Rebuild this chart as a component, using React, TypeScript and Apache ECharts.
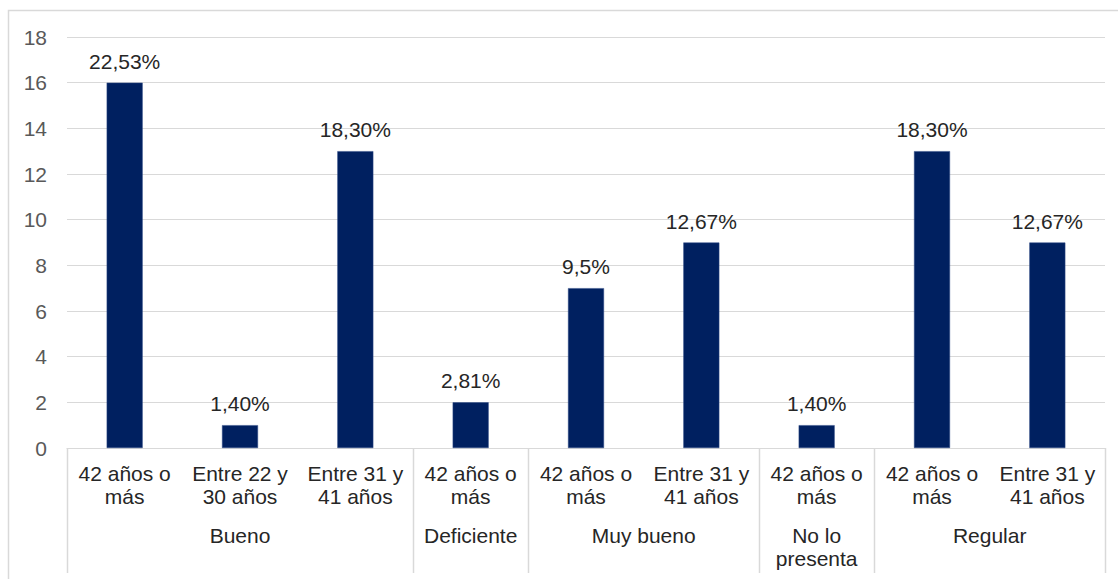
import React, { useEffect, useRef } from "react";
import * as echarts from "echarts";

const categories = [
  "42 años o\nmás",
  "Entre 22 y\n30 años",
  "Entre 31 y\n41 años",
  "42 años o\nmás",
  "42 años o\nmás",
  "Entre 31 y\n41 años",
  "42 años o\nmás",
  "42 años o\nmás",
  "Entre 31 y\n41 años",
];
const values = [16, 1, 13, 2, 7, 9, 1, 13, 9];
const percentLabels = ["22,53%", "1,40%", "18,30%", "2,81%", "9,5%", "12,67%", "1,40%", "18,30%", "12,67%"];
const groups = [
  { name: "Bueno", start: 0, end: 2 },
  { name: "Deficiente", start: 3, end: 3 },
  { name: "Muy bueno", start: 4, end: 5 },
  { name: "No lo\npresenta", start: 6, end: 6 },
  { name: "Regular", start: 7, end: 8 },
];

const FONT = "'Liberation Sans', Arial, sans-serif";
const FS = 21;

export default function App() {
  const ref = useRef<HTMLDivElement>(null);
  useEffect(() => {
    if (!ref.current) return;
    const chart = echarts.init(ref.current, null, { renderer: "svg" });
    chart.setOption({
      animation: false,
      backgroundColor: "#ffffff",
      grid: { left: 67, right: 13, top: 37, bottom: 131, containLabel: false },
      xAxis: {
        type: "category",
        data: categories,
        axisLine: { show: true, lineStyle: { color: "#d9d9d9", width: 1 } },
        axisTick: { show: false },
        axisLabel: {
          interval: 0,
          margin: 14,
          color: "#262626",
          fontFamily: FONT,
          fontSize: FS,
          lineHeight: 23,
        },
        splitLine: { show: false },
      },
      yAxis: {
        type: "value",
        min: 0,
        max: 18,
        interval: 2,
        axisLine: { show: false },
        axisTick: { show: false },
        axisLabel: { margin: 20, color: "#595959", fontFamily: FONT, fontSize: FS },
        splitLine: { lineStyle: { color: "#d9d9d9", width: 1 } },
      },
      series: [
        {
          type: "bar",
          data: values,
          barWidth: 36,
          itemStyle: { color: "#002060", borderColor: "#2f4a86", borderWidth: 0.5 },
          label: {
            show: true,
            position: "top",
            distance: 11,
            color: "#262626",
            fontFamily: FONT,
            fontSize: FS,
            formatter: (p: any) => percentLabels[p.dataIndex],
          },
        },
      ],
    });

    const cx = (i: number) => chart.convertToPixel({ xAxisIndex: 0 }, i) as number;
    const band = cx(1) - cx(0);
    const axisY = chart.convertToPixel({ yAxisIndex: 0 }, 0) as number;
    const lineBottom = 573;
    const elements: any[] = [];
    elements.push({
      type: "rect",
      shape: { x: 8.5, y: 10.5, width: 1130, height: 620 },
      style: { fill: "none", stroke: "#d9d9d9", lineWidth: 1.5 },
      silent: true,
    });
    const boundaries = new Set<number>();
    groups.forEach((g) => {
      boundaries.add(g.start);
      boundaries.add(g.end + 1);
    });
    boundaries.forEach((b) => {
      const x = Math.round(cx(0) - band / 2 + b * band) + 0.5;
      elements.push({
        type: "line",
        shape: { x1: x, y1: axisY, x2: x, y2: lineBottom },
        style: { stroke: "#d9d9d9", lineWidth: 1.5 },
        silent: true,
      });
    });
    groups.forEach((g) => {
      const x = (cx(g.start) + cx(g.end)) / 2;
      elements.push({
        type: "text",
        x,
        y: 524,
        style: {
          text: g.name,
          fill: "#262626",
          font: `${FS}px ${FONT}`,
          lineHeight: 23,
          align: "center",
          verticalAlign: "top",
        },
        silent: true,
      });
    });
    chart.setOption({ graphic: elements });
    return () => chart.dispose();
  }, []);
  return (
    <div
      ref={ref}
      style={{ position: "fixed", left: 0, top: 0, width: 1118, height: 579 }}
    />
  );
}
